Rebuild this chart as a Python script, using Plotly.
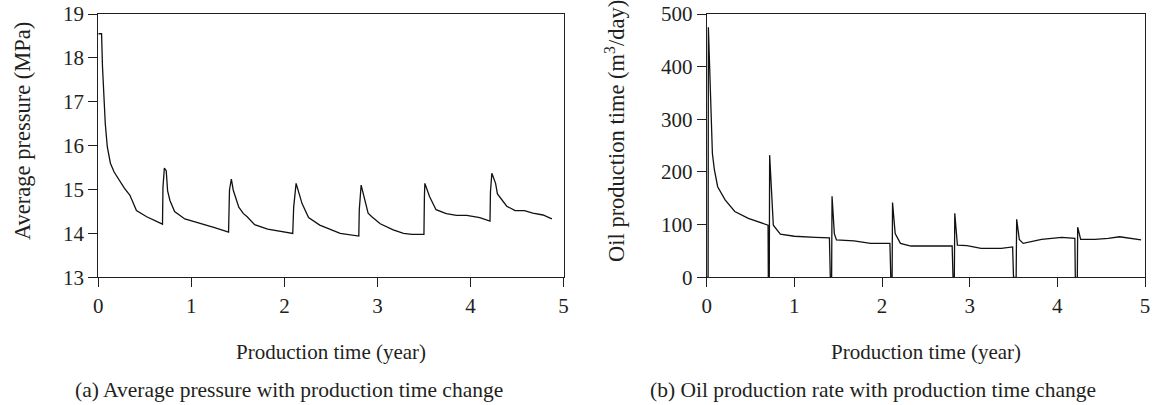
import plotly.graph_objects as go

# ---- data: (a) average pressure ----
pressure_time = [0, 0.035, 0.045, 0.06, 0.075, 0.097, 0.13, 0.17, 0.226, 0.28, 0.34, 0.41, 0.52, 0.6, 0.69,
                 0.695, 0.71, 0.73, 0.745, 0.77, 0.82, 0.93, 1.07, 1.25, 1.40,
                 1.41, 1.43, 1.45, 1.51, 1.56, 1.6, 1.68, 1.82, 2.0, 2.09,
                 2.10, 2.126, 2.19, 2.26, 2.38, 2.49, 2.6, 2.8,
                 2.805, 2.825, 2.9, 2.94, 3.03, 3.17, 3.28, 3.37, 3.5,
                 3.505, 3.51, 3.56, 3.63, 3.74, 3.85, 3.96, 4.1, 4.21,
                 4.215, 4.23, 4.27, 4.29, 4.34, 4.39, 4.48, 4.58, 4.67, 4.78, 4.875]
pressure_mpa = [18.55, 18.55, 17.8, 17.05, 16.5, 15.97, 15.6, 15.4, 15.2, 15.03, 14.87, 14.52, 14.38, 14.3, 14.21,
                15.05, 15.49, 15.43, 14.97, 14.75, 14.5, 14.33, 14.25, 14.13, 14.03,
                14.99, 15.24, 14.99, 14.6, 14.45, 14.38, 14.2, 14.1, 14.03, 14.0,
                14.6, 15.14, 14.68, 14.36, 14.19, 14.1, 14.0, 13.94,
                14.54, 15.1, 14.46, 14.38, 14.22, 14.08, 14.0, 13.98, 13.98,
                14.84, 15.14, 14.84, 14.54, 14.45, 14.41, 14.41, 14.36, 14.28,
                14.95, 15.37, 15.14, 14.9, 14.75, 14.62, 14.52, 14.52, 14.46, 14.42, 14.33]

# ---- data: (b) oil production rate ----
rate_time = [0, 0.016, 0.019, 0.035, 0.05, 0.065, 0.087, 0.125, 0.21, 0.32, 0.475, 0.6, 0.70,
             0.703, 0.714, 0.718, 0.735, 0.76, 0.84, 1.0, 1.24, 1.40,
             1.41, 1.425, 1.43, 1.456, 1.48, 1.68, 1.87, 2.09,
             2.10, 2.115, 2.12, 2.15, 2.21, 2.33, 2.80,
             2.81, 2.825, 2.83, 2.86, 2.97, 3.13, 3.36, 3.49,
             3.50, 3.53, 3.536, 3.566, 3.61, 3.82, 4.05, 4.20,
             4.205, 4.228, 4.232, 4.266, 4.43, 4.58, 4.71, 4.955]
rate_m3 = [0, 0, 475, 380, 290, 235, 205, 172, 147, 125, 112, 105, 99,
           0, 0, 232, 165, 99, 82, 78, 76, 75,
           0, 0, 154, 83, 71, 69, 64.5, 64.5,
           0, 0, 142, 83, 64.5, 59.4, 59.4,
           0, 0, 121.5, 61, 60, 55, 55, 57.6,
           0, 0, 110, 72, 64.5, 72, 76, 74,
           0, 0, 95, 72, 72, 74, 77, 71]

x_ticks = [0, 1, 2, 3, 4, 5]
p_ticks = [13, 14, 15, 16, 17, 18, 19]
r_ticks = [0, 100, 200, 300, 400, 500]

x_title = "Production time (year)"
y_title_a = "Average pressure (MPa)"
y_title_b = "Oil production time (m<sup>3</sup>/day)"
caption_a = "(a) Average pressure with production time change"
caption_b = "(b) Oil production rate with production time change"

W, H = 1153, 405
INK = "#231f20"
FONT = "Liberation Serif"

fig = go.Figure()
fig.add_trace(go.Scatter(x=pressure_time, y=pressure_mpa, mode="lines",
                         line=dict(color="#111111", width=1.3), xaxis="x", yaxis="y",
                         showlegend=False, hoverinfo="skip"))
fig.add_trace(go.Scatter(x=rate_time, y=rate_m3, mode="lines",
                         line=dict(color="#111111", width=1.3), xaxis="x2", yaxis="y2",
                         showlegend=False, hoverinfo="skip"))

ydom = [1 - 277.3 / H, 1 - 14 / H]


def axis_style():
    return dict(showgrid=False, zeroline=False, showline=True, linecolor=INK, linewidth=1.2,
                mirror=True, ticks="outside", ticklen=9, tickwidth=1.2, tickcolor=INK,
                tickfont=dict(family=FONT, size=21, color=INK), automargin=False)


fig.update_layout(
    width=W, height=H,
    template="none",
    font=dict(family=FONT, size=21, color=INK),
    margin=dict(l=0, r=0, t=0, b=0),
    paper_bgcolor="white", plot_bgcolor="white",
    xaxis=dict(domain=[98.3 / W, 563.5 / W], range=[0, 5], tickvals=x_ticks, anchor="y", **axis_style()),
    yaxis=dict(domain=ydom, range=[13, 19], tickvals=p_ticks, anchor="x", **axis_style()),
    xaxis2=dict(domain=[706.7 / W, 1145 / W], range=[0, 5], tickvals=x_ticks, anchor="y2", **axis_style()),
    yaxis2=dict(domain=ydom, range=[0, 500], tickvals=r_ticks, anchor="x2", **axis_style()),
)

ann = [
    dict(text=x_title, x=(98.3 + 563.5) / 2 / W, y=1 - 352 / H, size=21),
    dict(text=x_title, x=(706.7 + 1145) / 2 / W, y=1 - 352 / H, size=21),
    dict(text=caption_a, x=289 / W, y=1 - 390 / H, size=21.5),
    dict(text=caption_b, x=872.5 / W, y=1 - 390 / H, size=21.5),
    dict(text=y_title_a, x=22 / W, y=1 - 131 / H, textangle=-90, size=22.5),
    dict(text=y_title_b, x=615 / W, y=1 - 131 / H, textangle=-90, size=22.5),
]
for a in ann:
    size = a.pop("size")
    fig.add_annotation(xref="paper", yref="paper", showarrow=False,
                       font=dict(family=FONT, size=size, color=INK),
                       xanchor="center", yanchor="middle", **a)

fig.write_html("out.html")
